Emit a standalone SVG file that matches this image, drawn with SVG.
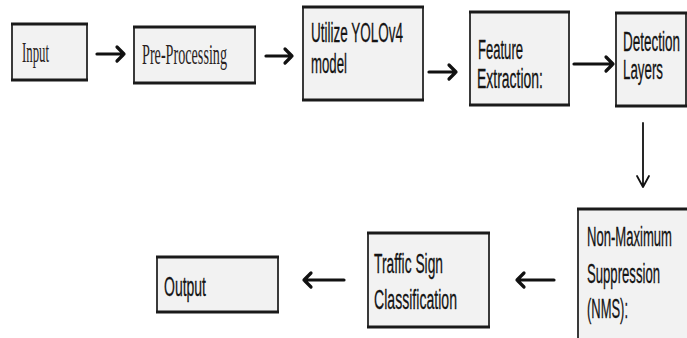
<svg xmlns="http://www.w3.org/2000/svg" width="687" height="338" viewBox="0 0 687 338">
<style>
.box{fill:#f2f2f2;stroke:#262626;stroke-width:1.8}
.edge{stroke:#1a1a1a;stroke-width:3.2}
.t{font-family:"Liberation Sans",Arial,sans-serif;font-size:27px;fill:#141414;stroke:#141414;stroke-width:0.3}
.s{font-family:"Liberation Serif","Times New Roman",serif;font-size:29px;fill:#2a1f1f}
.a{fill:none;stroke:#111;stroke-width:3.2;stroke-linecap:round;stroke-linejoin:round}
.v{fill:none;stroke:#111;stroke-width:1.8;stroke-linecap:round;stroke-linejoin:round}
</style>
<rect width="687" height="338" fill="#ffffff"/>
<g id="input">
<rect class="box" x="12" y="24" width="75" height="56"/>
<line class="edge" x1="11" y1="24" x2="88" y2="24"/><line class="edge" x1="11" y1="80" x2="88" y2="80"/>
<text class="s" x="22" y="62" textLength="27" lengthAdjust="spacingAndGlyphs">Input</text>
</g>
<g id="preprocessing">
<rect class="box" x="134" y="27" width="121" height="56"/>
<line class="edge" x1="133" y1="27" x2="256" y2="27"/><line class="edge" x1="133" y1="83" x2="256" y2="83"/>
<text class="s" x="142" y="64" textLength="85" lengthAdjust="spacingAndGlyphs">Pre-Processing</text>
</g>
<g id="yolo">
<rect class="box" x="303" y="7" width="120" height="93"/>
<line class="edge" x1="302" y1="7" x2="424" y2="7"/><line class="edge" x1="302" y1="100" x2="424" y2="100"/>
<text class="t" x="311" y="42" textLength="92" lengthAdjust="spacingAndGlyphs">Utilize YOLOv4</text>
<text class="t" x="311" y="73" textLength="36" lengthAdjust="spacingAndGlyphs">model</text>
</g>
<g id="feature">
<rect class="box" x="470" y="12" width="99" height="93"/>
<line class="edge" x1="469" y1="12" x2="570" y2="12"/><line class="edge" x1="469" y1="105" x2="570" y2="105"/>
<text class="t" x="478" y="59" textLength="45" lengthAdjust="spacingAndGlyphs">Feature</text>
<text class="t" x="477" y="88" textLength="66" lengthAdjust="spacingAndGlyphs">Extraction:</text>
</g>
<g id="detection">
<rect class="box" x="616" y="13" width="70" height="93"/>
<line class="edge" x1="615" y1="13" x2="687" y2="13"/><line class="edge" x1="615" y1="106" x2="687" y2="106"/>
<text class="t" x="623" y="51" textLength="57" lengthAdjust="spacingAndGlyphs">Detection</text>
<text class="t" x="623" y="79" textLength="40" lengthAdjust="spacingAndGlyphs">Layers</text>
</g>
<g id="nms">
<rect class="box" x="578" y="209" width="115" height="140"/>
<line class="edge" x1="577" y1="209" x2="687" y2="209"/>
<text class="t" x="587" y="246" textLength="85" lengthAdjust="spacingAndGlyphs">Non-Maximum</text>
<text class="t" x="587" y="283" textLength="73" lengthAdjust="spacingAndGlyphs">Suppression</text>
<text class="t" x="587" y="318" textLength="41" lengthAdjust="spacingAndGlyphs">(NMS):</text>
</g>
<g id="classification">
<rect class="box" x="368" y="233" width="121" height="94"/>
<line class="edge" x1="367" y1="233" x2="490" y2="233"/><line class="edge" x1="367" y1="327" x2="490" y2="327"/>
<text class="t" x="374" y="273" textLength="69" lengthAdjust="spacingAndGlyphs">Traffic Sign</text>
<text class="t" x="374" y="309" textLength="83" lengthAdjust="spacingAndGlyphs">Classification</text>
</g>
<g id="output">
<rect class="box" x="157" y="257" width="121" height="55"/>
<line class="edge" x1="156" y1="257" x2="279" y2="257"/><line class="edge" x1="156" y1="312" x2="279" y2="312"/>
<text class="t" x="164" y="296" textLength="42" lengthAdjust="spacingAndGlyphs">Output</text>
</g>
<g id="connectors">
<path class="a" d="M97 54 H124 M117 47 L124 54 L117 61"/>
<path class="a" d="M266 56 H292 M285 49 L292 56 L285 63"/>
<path class="a" d="M429 72 H456 M449 65 L456 72 L449 79"/>
<path class="a" d="M574 64 H613 M606 57 L613 64 L606 71"/>
<path class="v" d="M643 123 V187 M637 176 L643 187 L649 176"/>
<path class="a" d="M554 280 H517 M524 273 L517 280 L524 287"/>
<path class="a" d="M344 280 H304 M311 273 L304 280 L311 287"/>
</g>
</svg>
